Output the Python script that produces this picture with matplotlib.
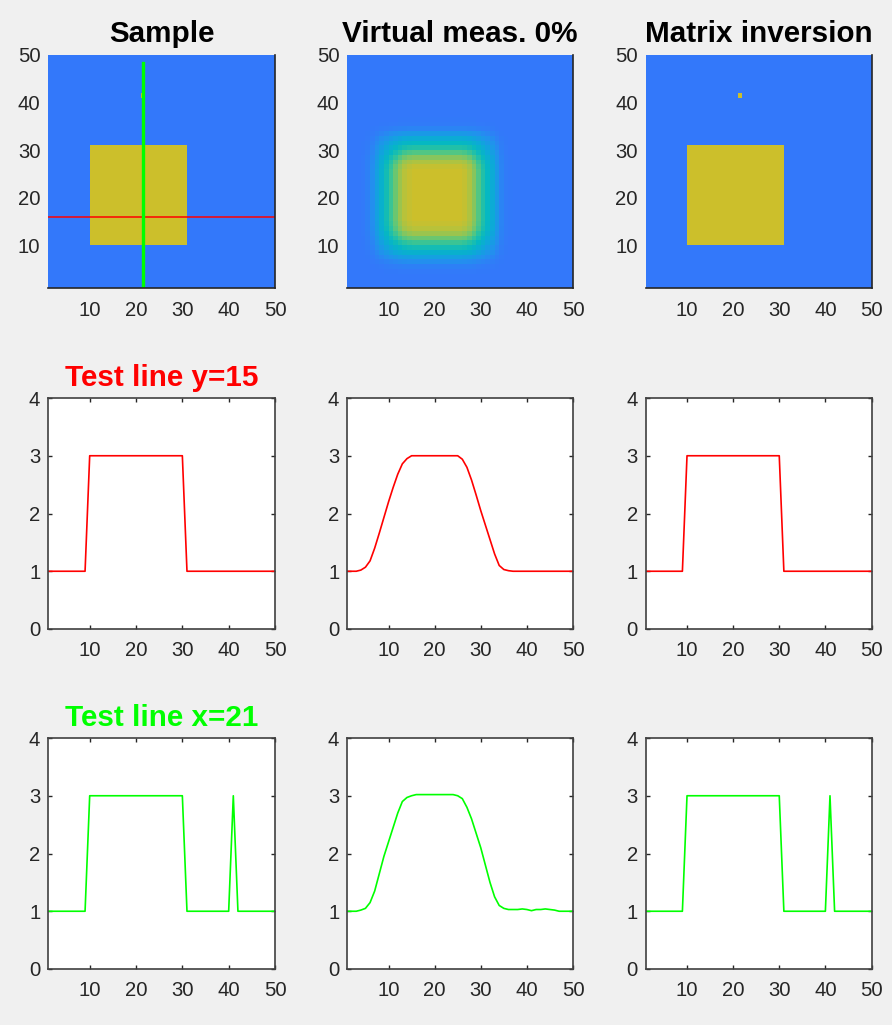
import numpy as np
import matplotlib
matplotlib.use("Agg")
import matplotlib.pyplot as plt
from matplotlib.colors import LinearSegmentedColormap

# ---------------- data ----------------
N = 50
BACKGROUND = 1.0
OBJECT = 3.0
SQUARE_X = (10, 30)      # columns (1-based, inclusive)
SQUARE_Y = (10, 30)      # rows (1-based, inclusive)
DOT_X, DOT_Y = 21, 41    # single bright pixel
TEST_ROW = 15            # test line y=15
TEST_COL = 21            # test line x=21

mid_row_profile = [1.00, 1.00, 1.00, 1.02, 1.07, 1.18, 1.40, 1.66, 1.93, 2.20,
                   2.45, 2.68, 2.86, 2.95, 3.00, 3.00, 3.00, 3.00, 3.00, 3.00,
                   3.00, 3.00, 3.00, 3.00, 3.00, 2.94, 2.80, 2.58, 2.32, 2.05,
                   1.80, 1.55, 1.30, 1.10, 1.03, 1.01, 1.00, 1.00, 1.00, 1.00,
                   1.00, 1.00, 1.00, 1.00, 1.00, 1.00, 1.00, 1.00, 1.00, 1.00]
mid_col_profile = [1.00, 1.00, 1.00, 1.02, 1.05, 1.15, 1.35, 1.65, 1.95, 2.20,
                   2.45, 2.70, 2.90, 2.97, 3.00, 3.02, 3.02, 3.02, 3.02, 3.02,
                   3.02, 3.02, 3.02, 3.02, 3.00, 2.95, 2.80, 2.60, 2.35, 2.10,
                   1.80, 1.50, 1.25, 1.10, 1.05, 1.03, 1.03, 1.03, 1.04, 1.03,
                   1.01, 1.03, 1.03, 1.04, 1.03, 1.02, 1.00, 1.00, 1.00, 1.00]

col_titles = ["Sample", "Virtual meas. 0%", "Matrix inversion"]
row_titles = ["Test line y=15", "Test line x=21"]
xticks = [10, 20, 30, 40, 50]
img_yticks = [10, 20, 30, 40, 50]
line_yticks = [0, 1, 2, 3, 4]

# overlay marker lines on the sample image
OVERLAY_Y = 16.0
OVERLAY_X = 21.5
OVERLAY_X_TOP = 48.4

# ---------------- build images ----------------
sample = np.full((N, N), BACKGROUND)
sample[SQUARE_Y[0] - 1:SQUARE_Y[1], SQUARE_X[0] - 1:SQUARE_X[1]] = OBJECT
sample[DOT_Y - 1, DOT_X - 1] = OBJECT
recon = sample.copy()

pr = np.array(mid_row_profile)
pc = np.array(mid_col_profile)
# blurred square: separable blur built from the (clean) row profile
virtual = BACKGROUND + np.outer(pr - 1, pr - 1) / (OBJECT - BACKGROUND)

images = [sample, virtual, recon]
row_profiles = [sample[TEST_ROW - 1, :], pr, recon[TEST_ROW - 1, :]]
col_profiles = [sample[:, TEST_COL - 1], pc, recon[:, TEST_COL - 1]]

# ---------------- style ----------------
plt.rcParams["font.family"] = ["Liberation Sans", "DejaVu Sans"]
TICK_COLOR = "#262626"
cmap = LinearSegmentedColormap.from_list("parula_like", [
    (0.00, (0.20, 0.47, 0.98)),
    (0.10, (0.13, 0.57, 0.93)),
    (0.25, (0.05, 0.66, 0.85)),
    (0.40, (0.02, 0.72, 0.76)),
    (0.55, (0.15, 0.76, 0.64)),
    (0.70, (0.38, 0.78, 0.47)),
    (0.85, (0.62, 0.77, 0.30)),
    (1.00, (0.80, 0.75, 0.17)),
])

W, H = 892, 1025
fig = plt.figure(figsize=(W / 100, H / 100), dpi=100, facecolor="#F0F0F0")

col_left = [48, 347, 645.5]
col_width = [227, 226, 226]
row_top = [55, 398, 738]
row_height = [233, 231, 231]


def make_ax(r, c):
    l = col_left[c] / W
    b = 1 - (row_top[r] + row_height[r]) / H
    return fig.add_axes([l, b, col_width[c] / W, row_height[r] / H])


x = np.arange(1, N + 1)
TICK_FS = 14.6
TITLE_FS = 21.3

for c in range(3):
    # ---- image row ----
    ax = make_ax(0, c)
    ax.pcolormesh(x, x, images[c][:-1, :-1], cmap=cmap, vmin=BACKGROUND,
                  vmax=OBJECT, shading="flat")
    if c == 0:
        ax.plot([1, N], [OVERLAY_Y, OVERLAY_Y], color="#FF0000", lw=1.1)
        ax.plot([OVERLAY_X, OVERLAY_X], [1, OVERLAY_X_TOP], color="#00FF00",
                lw=2.4)
    ax.set_xlim(1, N)
    ax.set_ylim(1, N)
    ax.set_xticks(xticks)
    ax.set_yticks(img_yticks)
    ax.tick_params(length=0, labelsize=TICK_FS, colors=TICK_COLOR)
    ax.tick_params(axis="x", pad=9)
    ax.tick_params(axis="y", pad=5.5)
    for s in ["left", "top"]:
        ax.spines[s].set_visible(False)
    for s in ["bottom", "right"]:
        ax.spines[s].set_color(TICK_COLOR)
        ax.spines[s].set_linewidth(1.2)
    ax.set_title(col_titles[c], fontsize=TITLE_FS, fontweight="bold",
                 color="black", pad=9)

    # ---- profile rows ----
    for r, (prof, color) in enumerate([(row_profiles[c], "#FF0000"),
                                        (col_profiles[c], "#00FF00")], start=1):
        ax = make_ax(r, c)
        ax.set_facecolor("white")
        ax.plot(x, prof, color=color, lw=1.2)
        ax.set_xlim(1, N)
        ax.set_ylim(0, 4)
        ax.set_xticks(xticks)
        ax.set_yticks(line_yticks)
        ax.tick_params(direction="in", length=3, width=1, top=True,
                       right=True, labelsize=TICK_FS, colors=TICK_COLOR)
        ax.tick_params(axis="x", pad=9)
        ax.tick_params(axis="y", pad=5.5)
        for s in ax.spines.values():
            s.set_color("#404040")
            s.set_linewidth(1.2)
        if c == 0:
            ax.set_title(row_titles[r - 1], fontsize=TITLE_FS,
                         fontweight="bold", color=color, pad=9)

fig.savefig("out.png", dpi=100, facecolor=fig.get_facecolor())
